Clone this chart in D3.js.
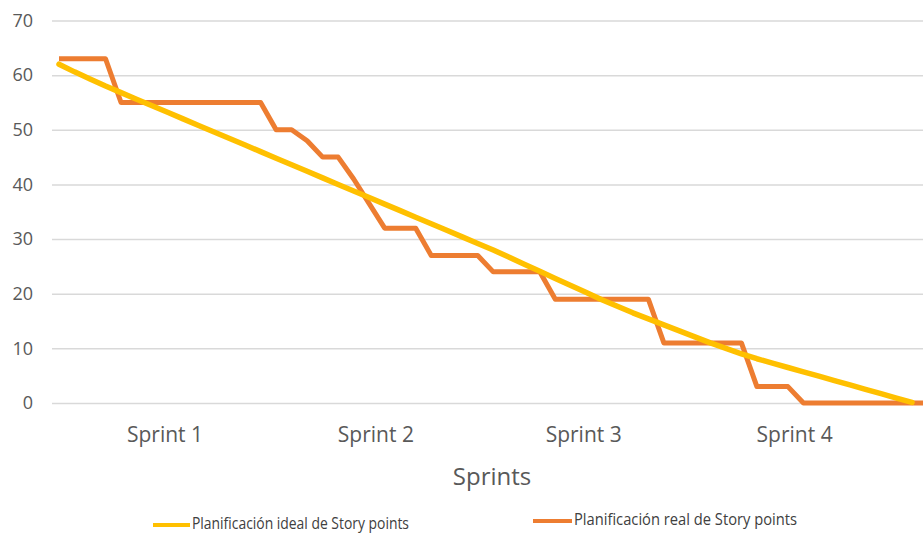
<!DOCTYPE html>
<html>
<head>
<meta charset="utf-8">
<script src="https://cdn.jsdelivr.net/npm/d3@7"></script>
<style>
  body { margin: 0; background: #fff; }
  svg { display: block; font-family: "Open Sans", sans-serif; }
</style>
</head>
<body>
<svg id="chart"></svg>
<script>
// Story points remaining per day (index = day of the project)
const idealPoints = [62, 60.6, 59.3, 58, 56.8, 55.6, 54.4, 53.2, 52, 50.8, 49.6, 48.4, 47.2, 46,
    44.8, 43.6, 42.4, 41.2, 40, 38.8, 37.6, 36.4, 35.2, 34, 32.8, 31.6, 30.4, 29.2, 28, 26.7, 25.4,
    24.1, 22.8, 21.5, 20.2, 18.9, 17.7, 16.5, 15.4, 14.3, 13.2, 12.1, 11, 10, 9, 8.1, 7.3, 6.5,
    5.7, 4.9, 4.1, 3.3, 2.5, 1.7, 0.9, 0.1];
const realPoints = [63, 63, 63, 63, 55, 55, 55, 55, 55, 55, 55, 55, 55, 55, 50, 50, 48, 45, 45,
    41, 36.5, 32, 32, 32, 27, 27, 27, 27, 24, 24, 24, 24, 19, 19, 19, 19, 19, 19, 19, 11, 11, 11,
    11, 11, 11, 3, 3, 3, 0, 0, 0, 0, 0, 0, 0, 0, 0];

// x axis labels and where they sit (in days)
const sprintLabels = ['Sprint 1', 'Sprint 2', 'Sprint 3', 'Sprint 4'];
const sprintTickPos = [6.8, 20.4, 33.8, 47.4];
const yTicks = [0, 10, 20, 30, 40, 50, 60, 70];

const seriesNames = ['Planificación ideal de Story points', 'Planificación real de Story points'];
const colors = ['#FFC000', '#ED7D31'];

const width = 923, height = 534;
const gridLeft = 52;

const svg = d3.select('#chart')
    .attr('width', width)
    .attr('height', height);

const xScale = d3.scaleLinear()
    .domain([0, 55])
    .range([59, 912]);

const yScale = d3.scaleLinear()
    .domain([0, 70])
    .range([403, 20.5]);

// Gridlines + y labels
const yAxisG = svg.append('g')
    .attr('transform', `translate(${gridLeft},0)`)
    .call(d3.axisLeft(yScale)
        .tickValues(yTicks)
        .tickSize(-(width - gridLeft))
        .tickPadding(19));

yAxisG.select('.domain').remove();
yAxisG.selectAll('line')
    .attr('stroke', '#d9d9d9')
    .attr('stroke-width', 1.5);
yAxisG.selectAll('text')
    .attr('fill', '#595959')
    .style('font-size', '18px')
    .style('font-family', '"Open Sans", sans-serif');

// Sprint labels
const xAxisG = svg.append('g')
    .attr('transform', `translate(0,${yScale(0)})`)
    .call(d3.axisBottom(xScale)
        .tickValues(sprintTickPos)
        .tickFormat((d, i) => sprintLabels[i])
        .tickSize(0));

xAxisG.select('.domain').remove();
xAxisG.selectAll('text')
    .attr('y', 39)
    .attr('dy', 0)
    .attr('fill', '#595959')
    .style('font-size', '21px')
    .style('font-family', '"Open Sans", sans-serif');

// Axis title
svg.append('text')
    .attr('x', 492)
    .attr('y', 485)
    .attr('text-anchor', 'middle')
    .attr('fill', '#595959')
    .style('font-size', '24px')
    .text('Sprints');

// Lines (real first so the ideal line sits on top)
const line = d3.line()
    .x((d, i) => xScale(i))
    .y(d => yScale(d));

svg.append('path')
    .datum(realPoints)
    .attr('fill', 'none')
    .attr('stroke', colors[1])
    .attr('stroke-width', 5)
    .attr('stroke-linejoin', 'round')
    .attr('d', line);

svg.append('path')
    .datum(idealPoints)
    .attr('fill', 'none')
    .attr('stroke', colors[0])
    .attr('stroke-width', 5.5)
    .attr('stroke-linecap', 'round')
    .attr('stroke-linejoin', 'round')
    .attr('d', line);

// Legend
const legendItems = [
    {x: 153, y: 525, w: 37, textLen: 217},
    {x: 533, y: 521, w: 39, textLen: 223}
];

const legend = svg.append('g');
legendItems.forEach((it, i) => {
    legend.append('line')
        .attr('x1', it.x).attr('x2', it.x + it.w)
        .attr('y1', it.y).attr('y2', it.y)
        .attr('stroke', colors[i])
        .attr('stroke-width', 4);
    legend.append('text')
        .attr('x', it.x + it.w + 2)
        .attr('y', it.y + 4)
        .attr('fill', '#404040')
        .attr('textLength', it.textLen)
        .attr('lengthAdjust', 'spacingAndGlyphs')
        .style('font-size', '16px')
        .text(seriesNames[i]);
});
</script>
</body>
</html>
